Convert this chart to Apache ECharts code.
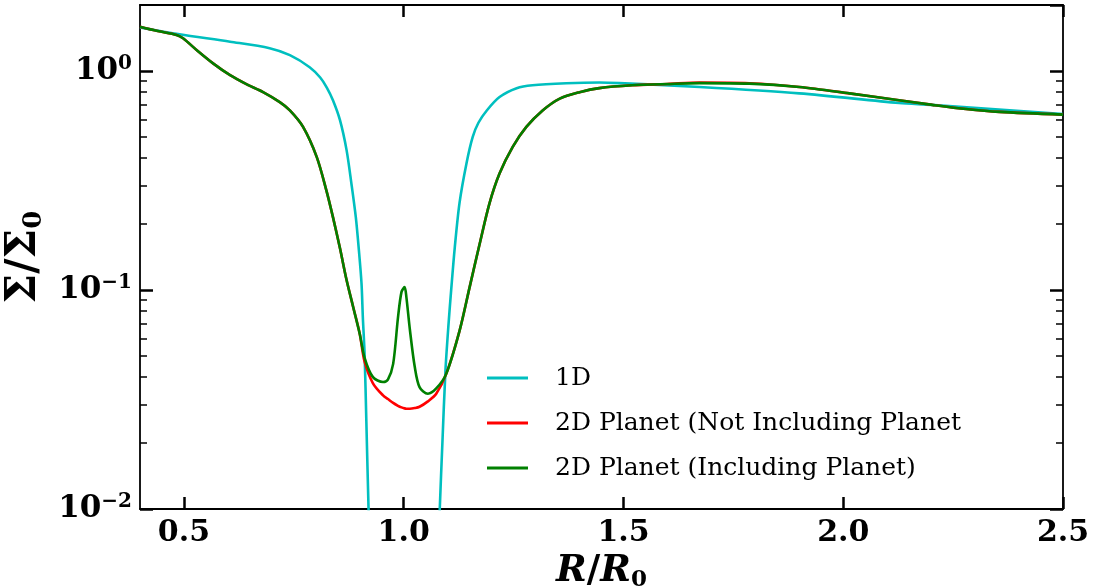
<!DOCTYPE html>
<html>
<head>
<meta charset="utf-8">
<script src="https://cdn.jsdelivr.net/npm/echarts@6/dist/echarts.min.js"></script>
<style>
html, body { margin: 0; padding: 0; background: #fff; }
#surfaceDensityChart { width: 1102px; height: 587px; }
</style>
</head>
<body>
<div id="surfaceDensityChart"></div>
<script>
// radius in units of R0, surface density in units of Sigma0
const r1D = [0.40, 0.49, 0.605, 0.695, 0.741, 0.786, 0.81, 0.825, 0.839, 0.855, 0.870, 0.881, 0.891, 0.898, 0.904, 0.907, 0.911, 0.915, 0.920, 0.93, 1.00, 1.07, 1.082, 1.088, 1.095, 1.102, 1.108, 1.116, 1.127, 1.143, 1.157, 1.17, 1.189, 1.218, 1.257, 1.293, 1.37, 1.445, 1.49, 1.673, 1.90, 2.127, 2.20, 2.50]
const sigma1D = [1.58, 1.47, 1.36, 1.27, 1.18, 1.04, 0.933, 0.84, 0.735, 0.596, 0.435, 0.306, 0.215, 0.152, 0.107, 0.075, 0.051, 0.025, 0.010, 0.002, 0.0005, 0.002, 0.010, 0.020, 0.043, 0.07, 0.10, 0.155, 0.25, 0.38, 0.50, 0.58, 0.66, 0.76, 0.834, 0.86, 0.878, 0.885, 0.88, 0.845, 0.79, 0.714, 0.70, 0.635]

const r2D = [0.40, 0.44, 0.483, 0.498, 0.53, 0.567, 0.605, 0.642, 0.68, 0.718, 0.741, 0.771, 0.802, 0.824, 0.839, 0.855, 0.87, 0.885, 0.90, 0.911, 0.93, 0.953, 0.964, 0.976, 0.987, 0.995, 1.002, 1.006, 1.014, 1.025, 1.036, 1.055, 1.074, 1.097, 1.127, 1.15, 1.173, 1.195, 1.218, 1.248, 1.279, 1.316, 1.355, 1.40, 1.445, 1.52, 1.60, 1.673, 1.786, 1.90, 2.014, 2.127, 2.203, 2.279, 2.355, 2.50]
const sigma2DNoPlanet = [1.59, 1.52, 1.46, 1.41, 1.24, 1.08, 0.956, 0.87, 0.80, 0.72, 0.66, 0.555, 0.405, 0.285, 0.215, 0.155, 0.111, 0.0836, 0.063, 0.047, 0.0375, 0.033, 0.0318, 0.0305, 0.0296, 0.0291, 0.0288, 0.0287, 0.0287, 0.0289, 0.0293, 0.031, 0.0336, 0.0415, 0.065, 0.103, 0.163, 0.248, 0.34, 0.45, 0.555, 0.66, 0.748, 0.80, 0.835, 0.86, 0.872, 0.885, 0.879, 0.845, 0.79, 0.735, 0.70, 0.67, 0.65, 0.632]
const sigma2DPlanet = [1.59, 1.52, 1.46, 1.41, 1.24, 1.08, 0.956, 0.87, 0.80, 0.72, 0.66, 0.555, 0.405, 0.285, 0.215, 0.155, 0.111, 0.0836, 0.063, 0.049, 0.040, 0.038, 0.039, 0.046, 0.075, 0.098, 0.103, 0.093, 0.066, 0.0447, 0.036, 0.0336, 0.0355, 0.0415, 0.065, 0.103, 0.163, 0.248, 0.34, 0.45, 0.555, 0.66, 0.748, 0.80, 0.835, 0.86, 0.872, 0.88, 0.875, 0.845, 0.79, 0.735, 0.70, 0.67, 0.65, 0.632]

const seriesNames = ['1D', '2D Planet (Not Including Planet', '2D Planet (Including Planet)']
const seriesColors = ['#00bfbf', '#ff0000', '#008000']

const xTickValues = [0.5, 1.0, 1.5, 2.0, 2.5]
const yMinorTickValues = [0.02, 0.03, 0.04, 0.05, 0.06, 0.07, 0.08, 0.09, 0.2, 0.3, 0.4, 0.5, 0.6, 0.7, 0.8, 0.9]

const serif = 'DejaVu Serif'
const xMin = 0.4
const xMax = 2.5
const yMin = 0.01
const yMax = 2

const toPairs = (xs, ys) => xs.map((x, i) => [x, ys[i]])

const frameLine = { show: true, onZero: false, lineStyle: { color: '#000', width: 1.8 } }
const majorTick = { show: true, inside: true, length: 13, lineStyle: { color: '#000', width: 2.5 } }
const minorTickValues = yMinorTickValues.map((v) => Math.log10(v))

const xAxisBase = (position, showLabel) => ({
    type: 'value',
    position: position,
    min: xMin,
    max: xMax,
    axisLine: frameLine,
    axisTick: Object.assign({}, majorTick, { length: 12, customValues: xTickValues }),
    axisLabel: {
        show: showLabel,
        customValues: xTickValues,
        formatter: (v) => v.toFixed(1),
        fontFamily: serif,
        fontWeight: 'bold',
        fontSize: 30,
        color: '#000',
        margin: 9
    },
    splitLine: { show: false }
})

const yLogAxis = (position, showLabel) => ({
    type: 'log',
    logBase: 10,
    position: position,
    min: yMin,
    max: yMax,
    axisLine: frameLine,
    axisTick: majorTick,
    axisLabel: {
        show: showLabel,
        showMaxLabel: false,
        margin: 8,
        formatter: (v) => {
            const e = Math.round(Math.log10(v))
            return '{b|10}{s|' + (e < 0 ? '\u2212' + (-e) : e) + '}'
        },
        rich: {
            b: { fontFamily: serif, fontWeight: 'bold', fontSize: 31, lineHeight: 34, color: '#000' },
            s: { fontFamily: serif, fontWeight: 'bold', fontSize: 20, lineHeight: 20, verticalAlign: 'top', color: '#000' }
        }
    },
    splitLine: { show: false }
})

// helper axes in log10 space, only used for the minor ticks at 2..9 x 10^n
const yMinorAxis = (position) => ({
    type: 'value',
    position: position,
    min: Math.log10(yMin),
    max: Math.log10(yMax),
    axisLine: { show: false },
    axisTick: { show: true, inside: true, length: 7, customValues: minorTickValues, lineStyle: { color: '#000', width: 1.5 } },
    axisLabel: { show: false },
    splitLine: { show: false }
})

const leftAxis = yLogAxis('left', true)
leftAxis.name = '{m|\u03a3/\u03a3}{sub|0}'
leftAxis.nameLocation = 'middle'
leftAxis.nameRotate = 90
leftAxis.nameGap = 88
leftAxis.nameTextStyle = {
    rich: {
        m: { fontFamily: serif, fontWeight: 'bold', fontSize: 42, lineHeight: 46, color: '#000' },
        sub: { fontFamily: serif, fontWeight: 'bold', fontSize: 26, lineHeight: 26, verticalAlign: 'bottom', color: '#000' }
    }
}

const bottomAxis = xAxisBase('bottom', true)
bottomAxis.name = '{i|R}{n|/}{i|R}{sub|0}'
bottomAxis.nameLocation = 'middle'
bottomAxis.nameGap = 31
bottomAxis.nameTextStyle = {
    rich: {
        i: { fontFamily: serif, fontWeight: 'bold', fontStyle: 'italic', fontSize: 37, lineHeight: 40, color: '#000' },
        n: { fontFamily: serif, fontWeight: 'bold', fontSize: 37, lineHeight: 40, color: '#000' },
        sub: { fontFamily: serif, fontWeight: 'bold', fontSize: 23, lineHeight: 22, verticalAlign: 'bottom', color: '#000' }
    }
}

const chartInstance = echarts.init(document.getElementById('surfaceDensityChart'), null, { renderer: 'canvas' })

chartInstance.setOption({
    backgroundColor: '#fff',
    animation: false,
    grid: { left: 140, right: 39, top: 5, bottom: 78, containLabel: false, outerBoundsMode: 'none' },
    legend: {
        orient: 'vertical',
        left: 482,
        top: 360,
        icon: 'rect',
        itemWidth: 41,
        itemHeight: 3,
        itemGap: 19,
        data: seriesNames,
        textStyle: { fontFamily: serif, fontSize: 25, lineHeight: 26, color: '#000', padding: [0, 0, 0, 22] }
    },
    xAxis: [bottomAxis, xAxisBase('top', false)],
    yAxis: [leftAxis, yLogAxis('right', false), yMinorAxis('left'), yMinorAxis('right')],
    series: [
        { name: seriesNames[0], data: toPairs(r1D, sigma1D) },
        { name: seriesNames[1], data: toPairs(r2D, sigma2DNoPlanet) },
        { name: seriesNames[2], data: toPairs(r2D, sigma2DPlanet) }
    ].map((s, i) => Object.assign(s, {
        type: 'line',
        xAxisIndex: 0,
        yAxisIndex: 0,
        showSymbol: false,
        smooth: 0.3,
        clip: true,
        color: seriesColors[i],
        lineStyle: { color: seriesColors[i], width: 2.6 }
    }))
})
</script>
</body>
</html>
